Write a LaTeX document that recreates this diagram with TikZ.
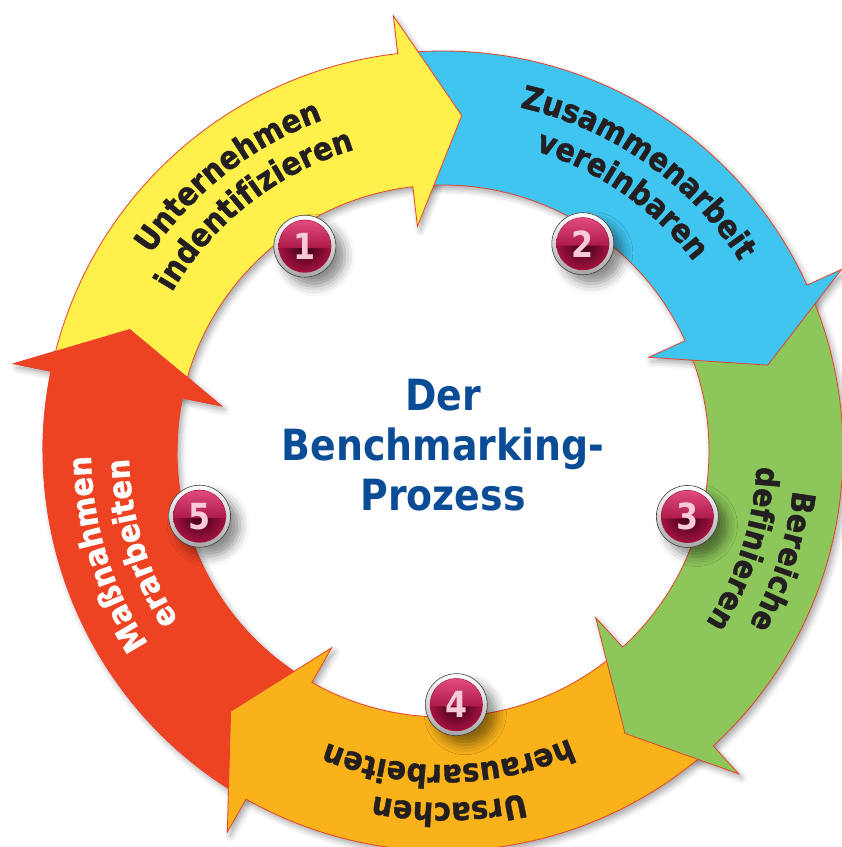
\documentclass[tikz,border=0pt]{standalone}
\usepackage{fontspec}
\setmainfont{DejaVu Sans}
\newfontfamily\titlefont[FakeStretch=0.88]{DejaVu Sans}
\newfontfamily\ringfont[FakeStretch=0.9, FakeBold=1.2]{DejaVu Sans}
\usetikzlibrary{decorations.text,shadows.blur}

\definecolor{segyellow}{HTML}{FFF04B}
\definecolor{segblue}{HTML}{40C4F0}
\definecolor{seggreen}{HTML}{8DC65A}
\definecolor{segorange}{HTML}{F9B21A}
\definecolor{segred}{HTML}{EE4323}
\definecolor{rimline}{HTML}{E8412C}
\definecolor{labelink}{HTML}{231F20}
\definecolor{titleblue}{HTML}{0B4C97}
\definecolor{balltop}{HTML}{E24C7E}
\definecolor{ballmid}{HTML}{A3123F}
\definecolor{balldark}{HTML}{3A0012}
\definecolor{digitpink}{HTML}{F6CAD9}

\newcommand{\labelfont}{\ringfont\bfseries\fontsize{32}{32}\selectfont}

% one curved arrow of the ring, #1 = angle of its tip
\newcommand{\segpath}[1]{({#1+81.7}:400) arc[start angle={#1+81.7}, end angle={#1+9.7}, radius=400]
  -- ({#1+9.7}:438) -- (#1:336) -- ({#1+9.7}:226) -- ({#1+9.7}:266)
  arc[start angle={#1+9.7}, end angle={#1+81.7}, radius=266] -- cycle}

\tikzset{
  seg/.style={draw=rimline, line width=0.8pt, line join=miter},
  segshadow/.style={blur shadow={shadow xshift=3pt, shadow yshift=-4pt, shadow blur radius=6pt, shadow opacity=35}},
  ringtext/.style={decorate, decoration={text along path, text align=center, text color=labelink, text={|\labelfont|#1}}},
  badge/.style={circle, minimum size=62pt, inner sep=0pt, draw=black!75, line width=0.6pt,
    top color=white, bottom color=black!35,
    blur shadow={shadow xshift=9pt, shadow yshift=-9pt, shadow blur radius=10pt, shadow opacity=45}},
  ball/.style={inner color=balldark, outer color=ballmid},
  gloss/.style={top color=balltop, bottom color=ballmid!85!balltop},
  digit/.style={font=\titlefont\bfseries\fontsize{36}{36}\selectfont, text=digitpink, inner sep=0pt},
  title/.style={align=center, text=titleblue, font=\titlefont\bfseries\fontsize{43}{50}\selectfont}
}

\begin{document}
\begin{tikzpicture}[x=1pt, y=1pt]

  \useasboundingbox (-443,-396) rectangle (399,451);

  % shadows under the whole ring
  \foreach \tip in {86.8, 14.8, -57.2, -129.2, 158.8}
    {
    \path[segshadow] \segpath{\tip};
    }

  \foreach \tip/\col in {158.8/segred, -129.2/segorange, -57.2/seggreen, 14.8/segblue, 86.8/segyellow}
    {
    \filldraw[seg, fill=\col] \segpath{\tip};
    }

  % red head has to lie on top of the yellow tail
  \begin{scope}
    \clip (-460,0) rectangle (0,460);
    \filldraw[seg, fill=segred] \segpath{158.8};
  \end{scope}

  \path[ringtext={Unternehmen}] (168:352) arc[start angle=168, end angle=88, radius=352];
  \path[ringtext={indentifizieren}] (168:314) arc[start angle=168, end angle=88, radius=314];

  \path[ringtext={Zusammenarbeit}] (95:352) arc[start angle=95, end angle=15, radius=352];
  \path[ringtext={vereinbaren}] (95:314) arc[start angle=95, end angle=15, radius=314];

  \path[ringtext={Bereiche}] (22:352) arc[start angle=22, end angle=-58, radius=352];
  \path[ringtext={definieren}] (22:314) arc[start angle=22, end angle=-58, radius=314];

  \path[ringtext={Ursachen}] (-49:352) arc[start angle=-49, end angle=-129, radius=352];
  \path[ringtext={herausarbeiten}] (-49:314) arc[start angle=-49, end angle=-129, radius=314];

  \path[ringtext={Maßnahmen}, decoration={text color=white}] (-123:352) arc[start angle=-123, end angle=-203, radius=352];
  \path[ringtext={erarbeiten}, decoration={text color=white}] (-123:314) arc[start angle=-123, end angle=-203, radius=314];

  % numbered buttons
  \foreach \n/\ang/\rad in {1/124/247, 2/56/250, 3/-15/253, 4/-87/254, 5/-165/252}
    {
    \node[badge] (b\n) at (\ang:\rad) {};
    \begin{scope}[shift={(b\n.center)}]
      \shade[ball] (0,0) circle[radius=26.5];
      \shade[gloss] (184:26) arc[start angle=184, end angle=-4, radius=26] -- cycle;
    \end{scope}
    \node[digit] (d\n) at (b\n.center) {\n};
    }

  \node[title] (title) at (0,6) {Der\\Benchmarking-\\Prozess};

\end{tikzpicture}
\end{document}
